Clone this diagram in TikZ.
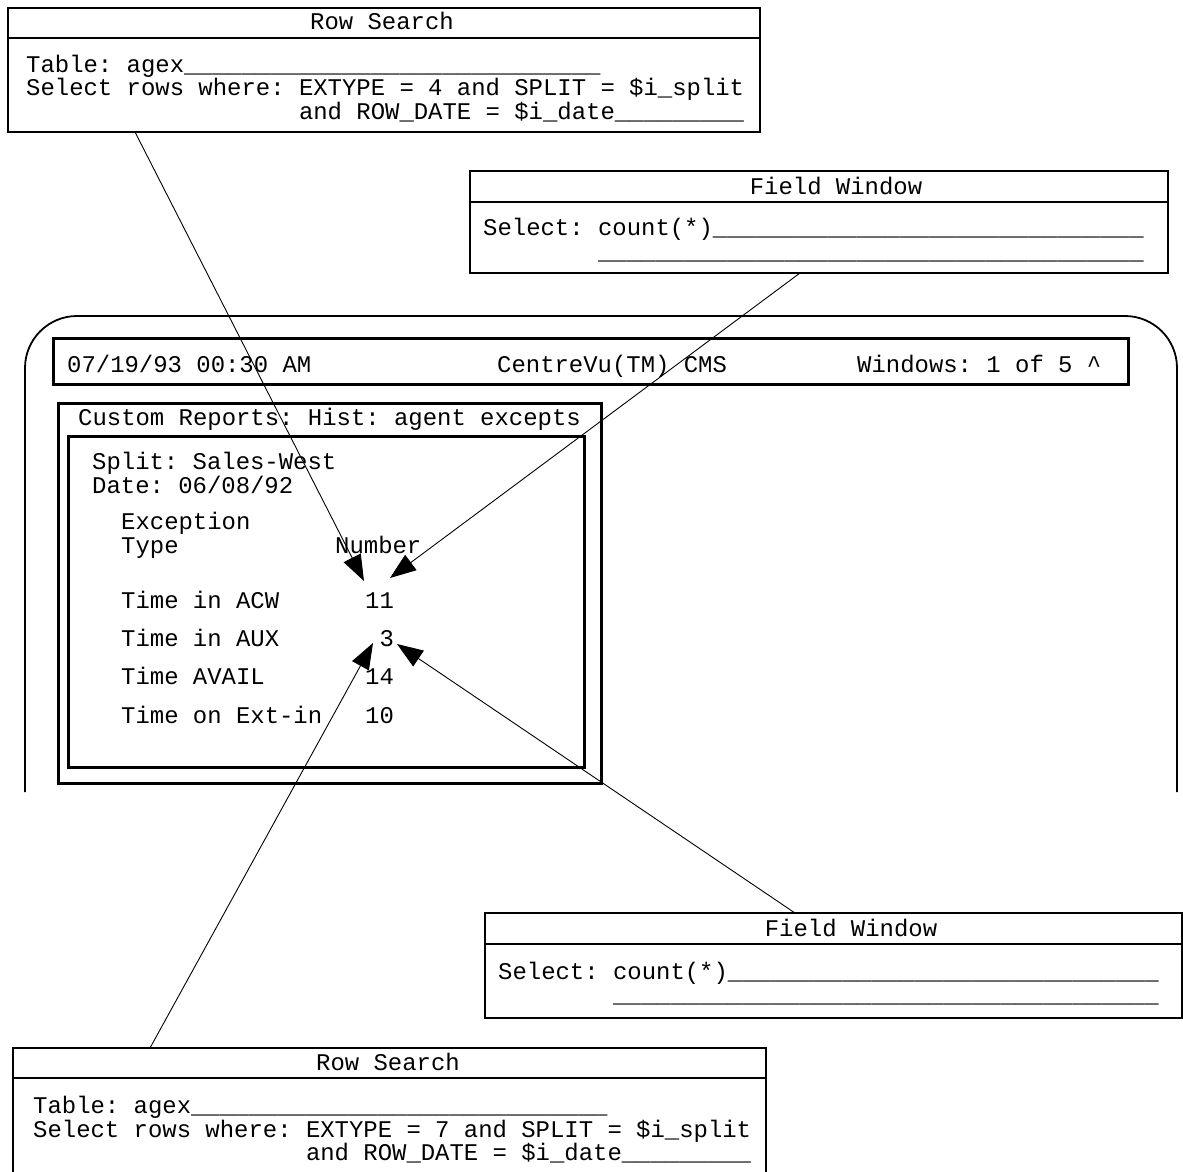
\documentclass[tikz,border=0pt]{standalone}
\usepackage{fontspec}
\setmonofont{Liberation Mono}
\usetikzlibrary{arrows.meta}
\newcommand\scrtx{\ttfamily\fontsize{23.93pt}{28pt}\selectfont}
\tikzset{
  txt/.style={anchor=base west, inner sep=0pt, font=\scrtx},
  ttl/.style={anchor=base, inner sep=0pt, font=\scrtx},
  panel/.style={draw, line width=1.5pt},
  thickbox/.style={draw, line width=3pt},
  pointer/.style={draw, line width=0.9pt, -{Triangle[length=26pt,width=19pt]}}
}
\begin{document}
\begin{tikzpicture}[x=1pt,y=-1pt]
\useasboundingbox (0,0) rectangle (1183,1172);

% ---- top Row Search panel
\draw[panel] (8,8) rectangle (760,132);
\draw[panel] (8,38) -- (760,38);
\node[ttl] (rs1t) at (382,29.5) {Row Search};
\node[txt] (rs1a) at (26,72) {Table: agex\_\_\_\_\_\_\_\_\_\_\_\_\_\_\_\_\_\_\_\_\_\_\_\_\_\_\_\_\_};
\node[txt] (rs1b) at (26,95.5) {Select rows where: EXTYPE = 4 and SPLIT = \$i\_split};
\node[txt] (rs1c) at (298.8,119.5) {and ROW\_DATE = \$i\_date\_\_\_\_\_\_\_\_\_};

% ---- top Field Window panel
\draw[panel] (470,171) rectangle (1168,273);
\draw[panel] (470,202) -- (1168,202);
\node[ttl] (fw1t) at (836,194) {Field Window};
\node[txt] (fw1a) at (483,235) {Select: count(*)\_\_\_\_\_\_\_\_\_\_\_\_\_\_\_\_\_\_\_\_\_\_\_\_\_\_\_\_\_\_};
\node[txt] (fw1b) at (597.9,259) {\_\_\_\_\_\_\_\_\_\_\_\_\_\_\_\_\_\_\_\_\_\_\_\_\_\_\_\_\_\_\_\_\_\_\_\_\_\_};

% ---- screen outline
\draw[line width=1.8pt, rounded corners=52pt] (25,792) -- (25,316) -- (1177,316) -- (1177,792);

% ---- header bar
\draw[thickbox] (53,338) rectangle (1128,384);
\node[txt] (hd1) at (67,372) {07/19/93 00:30 AM};
\node[txt] (hd2) at (497,372) {CentreVu(TM) CMS};
\node[txt] (hd3) at (857,372) {Windows: 1 of 5 \textasciicircum};

% ---- report window
\draw[thickbox] (58,403) rectangle (601,783);
\draw[thickbox] (68,436) rectangle (584,767);
\node[txt] (crt) at (78,425) {Custom Reports: Hist: agent excepts};
\node[txt] (sp) at (92,469) {Split: Sales-West};
\node[txt] (dt) at (92,493) {Date: 06/08/92};
\node[txt] (ex) at (121,529) {Exception};
\node[txt] (ty) at (121,553) {Type};
\node[txt] (nu) at (335,553) {Number};
\node[txt] (r1) at (121,608) {Time in ACW};
\node[txt] (n1) at (365,608) {11};
\node[txt] (r2) at (121,646) {Time in AUX};
\node[txt] (n2) at (379.4,646) {3};
\node[txt] (r3) at (121,684) {Time AVAIL};
\node[txt] (n3) at (365,684) {14};
\node[txt] (r4) at (121,723) {Time on Ext-in};
\node[txt] (n4) at (365,723) {10};

% ---- bottom Field Window panel
\draw[panel] (485,913) rectangle (1182,1018);
\draw[panel] (485,944) -- (1182,944);
\node[ttl] (fw2t) at (851,936) {Field Window};
\node[txt] (fw2a) at (498,979) {Select: count(*)\_\_\_\_\_\_\_\_\_\_\_\_\_\_\_\_\_\_\_\_\_\_\_\_\_\_\_\_\_\_};
\node[txt] (fw2b) at (612.9,1002) {\_\_\_\_\_\_\_\_\_\_\_\_\_\_\_\_\_\_\_\_\_\_\_\_\_\_\_\_\_\_\_\_\_\_\_\_\_\_};

% ---- bottom Row Search panel
\draw[panel] (13,1173) -- (13,1048) -- (766,1048) -- (766,1173);
\draw[panel] (13,1078) -- (766,1078);
\node[ttl] (rs2t) at (388,1070) {Row Search};
\node[txt] (rs2a) at (33,1113) {Table: agex\_\_\_\_\_\_\_\_\_\_\_\_\_\_\_\_\_\_\_\_\_\_\_\_\_\_\_\_\_};
\node[txt] (rs2b) at (33,1137) {Select rows where: EXTYPE = 7 and SPLIT = \$i\_split};
\node[txt] (rs2c) at (305.8,1160) {and ROW\_DATE = \$i\_date\_\_\_\_\_\_\_\_\_};

% ---- connector ends
\coordinate (rs1out) at (135,132);
\coordinate (fw1out) at (800,273);
\coordinate (fw2out) at (795,913);
\coordinate (rs2out) at (150,1048);
\coordinate (tipA) at (364,581);
\coordinate (tipB) at (390,578);
\coordinate (tipC) at (373,643);
\coordinate (tipD) at (397,644);

\draw[pointer] (rs1out) -- (tipA);
\draw[pointer] (fw1out) -- (tipB);
\draw[pointer] (rs2out) -- (tipC);
\draw[pointer] (fw2out) -- (tipD);
\end{tikzpicture}
\end{document}
